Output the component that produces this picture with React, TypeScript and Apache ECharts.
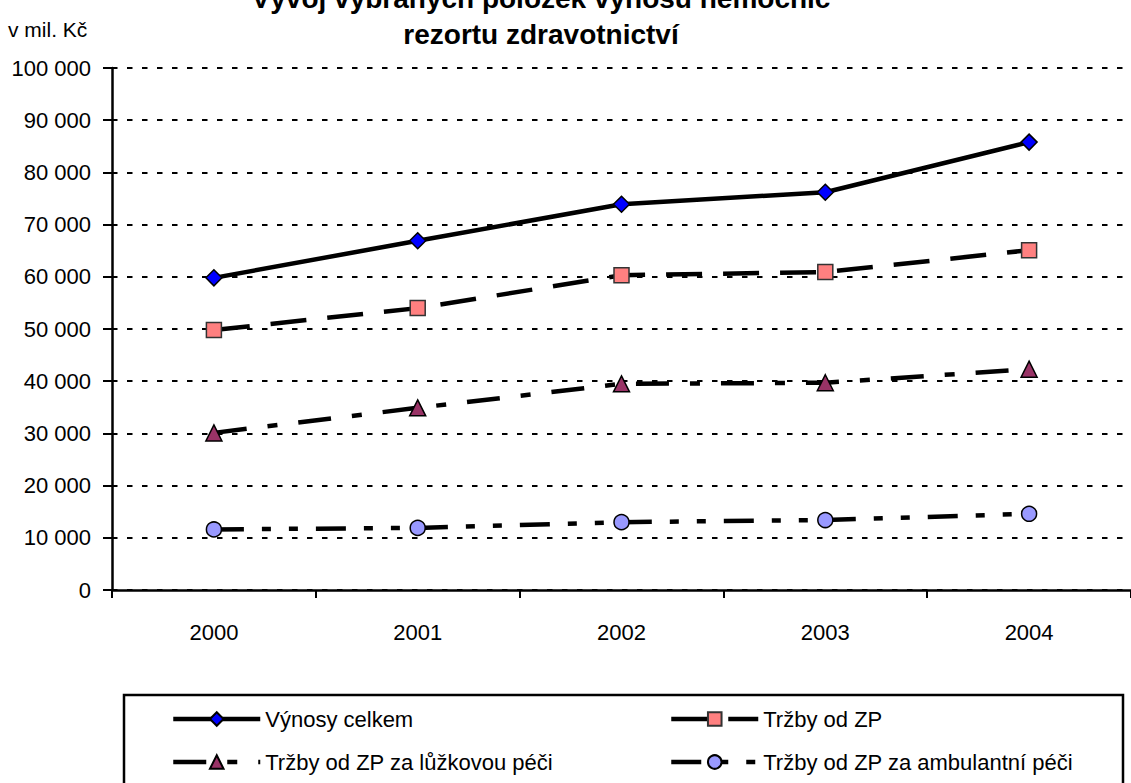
import React, { useEffect, useRef } from "react";
import * as echarts from "echarts";

const years = ["2000", "2001", "2002", "2003", "2004"];
const vynosyCelkem = [59800, 66900, 73900, 76200, 85800];
const trzbyZP = [49800, 54000, 60300, 60900, 65100];
const trzbyLuzkova = [30100, 34900, 39500, 39700, 42300];
const trzbyAmbulantni = [11600, 11900, 13000, 13400, 14600];

const names = [
  "Výnosy celkem",
  "Tržby od ZP",
  "Tržby od ZP za lůžkovou péči",
  "Tržby od ZP za ambulantní péči",
];

const FONT = "Liberation Sans, Arial, sans-serif";

function fmt(v: number): string {
  if (v === 0) return "0";
  const s = String(v);
  return s.replace(/\B(?=(\d{3})+(?!\d))/g, " ");
}

export default function App() {
  const ref = useRef<HTMLDivElement>(null);
  useEffect(() => {
    if (!ref.current) return;
    const chart = echarts.init(ref.current, null, { renderer: "svg" });
    const mk = (
      name: string,
      data: number[],
      symbol: string,
      size: number,
      color: string,
      border: string,
      dash: any
    ) => ({
      name,
      type: "line",
      data,
      symbol,
      symbolSize: size,
      showAllSymbol: true,
      lineStyle: { color: "#000", width: 4.5, type: dash, cap: "butt" },
      itemStyle: { color, borderColor: border, borderWidth: 1.5 },
      emphasis: { disabled: true },
      z: 3,
    });
    const legendCommon = {
      orient: "vertical",
      top: 703,
      itemWidth: 87,
      itemHeight: 17,
      itemGap: 21,
      lineStyle: { width: 4.5 },
      textStyle: { fontFamily: FONT, fontSize: 22, color: "#000" },
    };
    chart.setOption({
      animation: false,
      backgroundColor: "#fff",
      title: {
        text: "Vývoj vybraných položek výnosů nemocnic\nrezortu zdravotnictví",
        left: 536,
        textAlign: "center",
        top: -25,
        textStyle: {
          fontFamily: FONT,
          fontSize: 28,
          fontWeight: "bold",
          lineHeight: 36,
          color: "#000",
        },
      },
      graphic: [
        {
          type: "text",
          left: 8,
          top: 19,
          style: { text: "v mil. Kč", font: `21px ${FONT}`, fill: "#000" },
        },
        {
          type: "rect",
          shape: { x: 124, y: 695, width: 999, height: 140 },
          style: { fill: "none", stroke: "#000", lineWidth: 2.5 },
        },
      ],
      grid: { left: 112, right: -12, top: 68, bottom: 193 },
      xAxis: {
        type: "category",
        data: years,
        boundaryGap: true,
        axisLine: { lineStyle: { color: "#000", width: 2.5 } },
        axisTick: { show: true, length: 8, lineStyle: { color: "#000", width: 2 } },
        axisLabel: { fontFamily: FONT, fontSize: 22, color: "#000", margin: 31 },
      },
      yAxis: {
        type: "value",
        min: 0,
        max: 100000,
        interval: 10000,
        axisLine: { show: true, lineStyle: { color: "#000", width: 2.5 } },
        axisTick: { show: true, length: 9, lineStyle: { color: "#000", width: 2 } },
        axisLabel: {
          fontFamily: FONT,
          fontSize: 22,
          color: "#000",
          margin: 21,
          formatter: (v: number) => fmt(v),
        },
        splitLine: {
          show: true,
          lineStyle: { color: "#000", width: 2.2, type: [5.5, 9.5] },
        },
      },
      legend: [
        { ...legendCommon, data: [names[0], names[2]], left: 166 },
        { ...legendCommon, data: [names[1], names[3]], left: 664 },
      ],
      series: [
        mk(names[0], vynosyCelkem, "diamond", 16, "#0000FF", "#000", "solid"),
        mk(names[1], trzbyZP, "rect", 15, "#FF8080", "#333", [36, 21]),
        mk(names[2], trzbyLuzkova, "triangle", 16, "#993366", "#000", [33, 21, 10, 21]),
        mk(names[3], trzbyAmbulantni, "circle", 15, "#9999FF", "#000", [30, 18, 9, 18, 9, 18]),
      ],
    });
    return () => chart.dispose();
  }, []);
  return (
    <div
      ref={ref}
      style={{ position: "fixed", left: 0, top: 0, width: 1131, height: 783 }}
    />
  );
}
